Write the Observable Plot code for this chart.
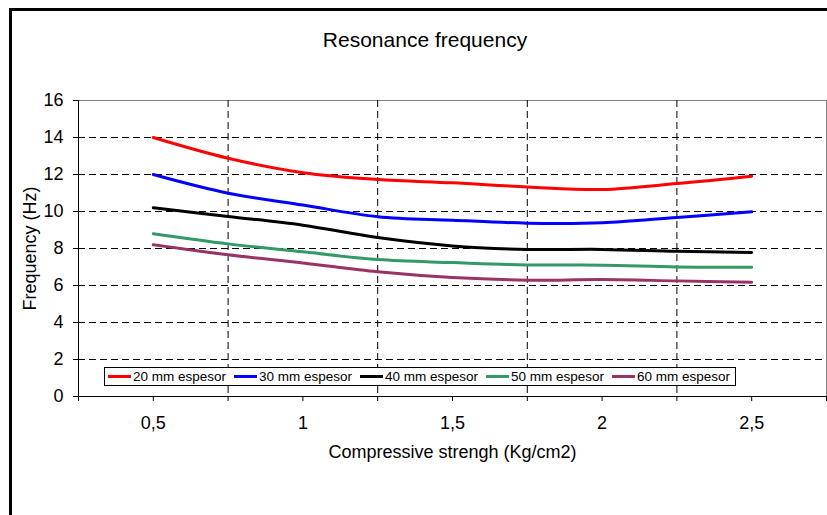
<!DOCTYPE html>
<html><head><meta charset="utf-8">
<script src="https://cdn.jsdelivr.net/npm/d3@7"></script>
<script src="https://cdn.jsdelivr.net/npm/@observablehq/plot@0.6"></script>
<style>
body{margin:0;overflow:hidden;background:#fff;font-family:Arial,"Liberation Sans",sans-serif}
#wrap{position:relative;width:827px;height:515px;overflow:hidden;background:#fff}
#border{position:absolute;left:9px;top:8px;width:900px;height:600px;border:3px solid #000;box-sizing:border-box}
#title{position:absolute;left:0;width:850px;top:28px;text-align:center;font-size:21px;color:#000}
#chart{position:absolute;left:0;top:0}
#legend{position:absolute;left:104px;top:367px;width:632px;height:19px;border:1px solid #000;background:#fff;box-sizing:border-box;display:flex;align-items:center;font-size:13.5px;white-space:nowrap}
.item{display:flex;align-items:center;width:126px;flex:none}
.sw{display:inline-block;width:23px;height:3px;margin:0 2px 0 3px}
</style></head>
<body>
<div id="wrap">
  <div id="border"></div>
  <div id="chart"></div>
  <div id="title">Resonance frequency</div>
  <div id="legend"></div>
</div>
<script>
const xValues = [0.5, 0.75, 1, 1.25, 1.5, 1.75, 2, 2.25, 2.5];
const s20 = [14, 12.88, 12.1, 11.73, 11.55, 11.33, 11.19, 11.51, 11.91];
const s30 = [12, 10.99, 10.35, 9.72, 9.53, 9.37, 9.39, 9.68, 9.98];
const s40 = [10.2, 9.73, 9.26, 8.59, 8.14, 7.95, 7.95, 7.85, 7.78];
const s50 = [8.8, 8.25, 7.82, 7.4, 7.24, 7.11, 7.1, 7.0, 6.99];
const s60 = [8.2, 7.66, 7.22, 6.74, 6.43, 6.29, 6.32, 6.25, 6.18];
const seriesNames = ["20 mm espesor", "30 mm espesor", "40 mm espesor", "50 mm espesor", "60 mm espesor"];
const seriesColors = ["#ff0000", "#0000ff", "#000000", "#339966", "#993366"];
const xTickLabels = [0.5, 1, 1.5, 2, 2.5];
const yTicks = [0, 2, 4, 6, 8, 10, 12, 14, 16];

const allSeries = [s20, s30, s40, s50, s60];
const data = [];
allSeries.forEach((vals, i) => vals.forEach((v, j) => data.push({x: xValues[j], y: v, s: seriesNames[i]})));

const gridStyle = {stroke: "#000", strokeOpacity: 1, strokeWidth: 1, strokeDasharray: "7,4"};
const fmt = d => String(d).replace(".", ",");

const chart = Plot.plot({
  width: 827, height: 515,
  marginLeft: 78, marginRight: 1, marginTop: 100, marginBottom: 119,
  style: {fontFamily: "Arial, 'Liberation Sans', sans-serif", color: "#000", background: "transparent", overflow: "visible"},
  x: {domain: [0.25, 2.75]},
  y: {domain: [0, 16]},
  color: {domain: seriesNames, range: seriesColors},
  marks: [
    Plot.frame({stroke: "#808080"}),
    Plot.gridY([2, 4, 6, 8, 10, 12, 14], gridStyle),
    Plot.gridX([0.75, 1.25, 1.75, 2.25], gridStyle),
    Plot.ruleX([0.25], {stroke: "#000"}),
    Plot.ruleY([0], {stroke: "#000"}),
    Plot.axisY(yTicks, {tickSize: 5, tickPadding: 10, fontSize: 18, label: "Frequency (Hz)", labelAnchor: "center", labelArrow: "none", labelOffset: 55}),
    Plot.axisX(d3.range(0.25, 2.76, 0.25), {tickSize: 5, tickFormat: () => "", label: null}),
    Plot.axisX(xTickLabels, {tickSize: 0, tickPadding: 20, tickFormat: fmt, fontSize: 18, label: "Compressive strengh (Kg/cm2)", labelAnchor: "center", labelArrow: "none", labelOffset: 61}),
    Plot.line(data, {x: "x", y: "y", z: "s", stroke: "s", strokeWidth: 3, curve: "catmull-rom"})
  ]
});
document.getElementById("chart").appendChild(chart);

const legend = document.getElementById("legend");
seriesNames.forEach((n, i) => {
  const it = document.createElement("div");
  it.className = "item";
  it.innerHTML = `<span class="sw" style="background:${seriesColors[i]}"></span><span>${n}</span>`;
  legend.appendChild(it);
});
</script>
</body></html>
